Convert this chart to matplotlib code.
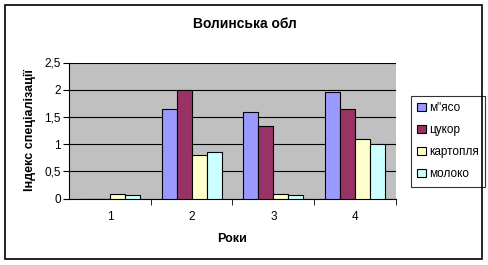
import matplotlib.pyplot as plt
import matplotlib.patches as mpatches
import numpy as np

plt.rcParams['font.family'] = ['Liberation Sans', 'DejaVu Sans']

years = ["1", "2", "3", "4"]
series_names = ["м\"ясо", "цукор", "картопля", "молоко"]
meat = [0.0, 1.65, 1.59, 1.96]
sugar = [0.0, 2.0, 1.34, 1.65]
potato = [0.09, 0.80, 0.09, 1.10]
milk = [0.07, 0.85, 0.07, 1.01]
colors = ["#9999FF", "#993366", "#FFFFCC", "#CCFFFF"]

fig = plt.figure(figsize=(4.89, 2.65), dpi=100)
fig.patches.append(mpatches.Rectangle((5 / 489, 1 - 259 / 265), 477 / 489, 254 / 265,
                                      transform=fig.transFigure, fill=False,
                                      edgecolor="black", linewidth=1.2))
ax = fig.add_axes([69 / 489, 1 - 198.5 / 265, 327 / 489, 136 / 265])
ax.set_facecolor("#C0C0C0")

x = np.arange(len(years))
w = 0.183
for i, (vals, name) in enumerate(zip([meat, sugar, potato, milk], series_names)):
    ax.bar(x + (i - 1.5) * w, vals, w, color=colors[i], edgecolor="black",
           linewidth=0.8, label=name, zorder=3)

ax.set_xlim(-0.5, 3.5)
ax.set_ylim(0, 2.5)
ax.set_yticks([0, 0.5, 1, 1.5, 2, 2.5])
ax.set_yticklabels(["0", "0,5", "1", "1,5", "2", "2,5"], fontsize=8.5)
ax.yaxis.grid(True, color="black", linewidth=0.8, zorder=1)
ax.set_xticks(x)
ax.set_xticklabels(years, fontsize=8.5)
ax.tick_params(axis="x", length=0, pad=9)
ax.set_xticks([0.5, 1.5, 2.5, 3.5], minor=True)
ax.tick_params(axis="x", which="minor", length=4, direction="out")
ax.tick_params(axis="y", length=4, direction="out", pad=2)
for s in ["top", "right"]:
    ax.spines[s].set_visible(False)
ax.spines["left"].set_linewidth(0.8)
ax.spines["bottom"].set_linewidth(0.8)

ax.set_xlabel("Роки", fontsize=9, fontweight="bold", labelpad=7)
ax.set_ylabel("Індекс спеціалізації", fontsize=9, fontweight="bold", labelpad=6)
fig.text(0.5, 1 - 24 / 265, "Волинська обл", ha="center", va="center",
         fontsize=10, fontweight="bold")

leg = ax.legend(loc="upper left", bbox_to_anchor=(405 / 489, 1 - 90 / 265),
                bbox_transform=fig.transFigure, fontsize=8.5, frameon=True,
                fancybox=False, edgecolor="black", handlelength=0.7,
                handleheight=0.7, handletextpad=0.3, labelspacing=0.85,
                borderpad=0.55)
leg.get_frame().set_linewidth(0.8)

fig.savefig("out.png", dpi=100)
